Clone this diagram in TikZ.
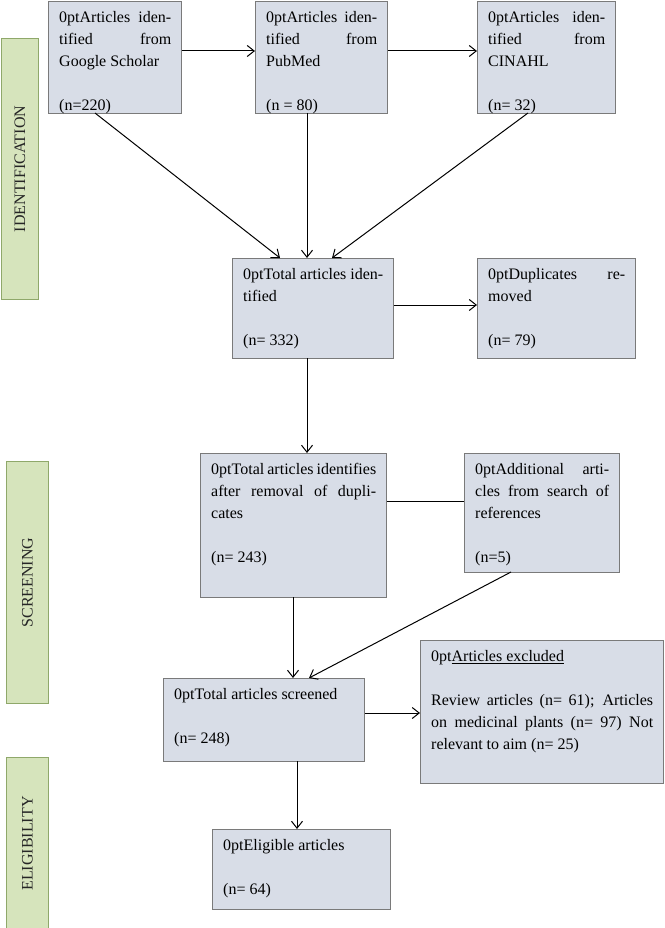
\documentclass[tikz,border=0pt]{standalone}
\usepackage{fontspec}
\setmainfont{Liberation Serif}
\usetikzlibrary{arrows.meta}
\definecolor{boxfill}{HTML}{D8DDE7}
\definecolor{boxdraw}{HTML}{7A7A7A}
\definecolor{barfill}{HTML}{D6E4BC}
\definecolor{bardraw}{HTML}{8FA86A}
\newcommand{\fbx}[6]{%
  \node[box, minimum width=#4-#2, minimum height=#5-#3, anchor=north west] (#1) at (#2,#3) {};
  \node[boxtext, text width=#4-#2-21pt, anchor=north west] (#1t) at (#2+1,#3+4) {#6};
}
\newcommand{\sbar}[6]{%
  \node[bar, minimum width=#4-#2, minimum height=#5-#3, anchor=north west] (#1) at (#2,#3) {};
  \node[rotate=90, font=\fontsize{16}{19}\selectfont, text=black!85] (#1t) at ($(#1.center)$) {#6};
}
\usetikzlibrary{calc}
\tikzset{
  box/.style={draw=boxdraw, fill=boxfill, line width=0.9pt, inner sep=0pt},
  boxtext/.style={inner xsep=10pt, inner ysep=6pt, align=justify,
    font=\fontsize{16}{22}\selectfont\hyphenpenalty=10000\exhyphenpenalty=10000\tolerance=9999},
  bar/.style={draw=bardraw, fill=barfill, line width=1pt, inner sep=0pt},
  arr/.style={-{Straight Barb[length=7pt,width=11pt]}, line width=1pt},
  ln/.style={line width=1pt}
}
\begin{document}
\begin{tikzpicture}[x=1pt,y=-1pt]
\useasboundingbox (0,0) rectangle (664,928);
\sbar{idb}{1}{38}{38}{299}{IDENTIFICATION}
\sbar{scb}{6}{461}{48}{703}{SCREENING}
\sbar{elb}{6}{757}{48}{929}{ELIGIBILITY}
\fbx{gs}{48}{1}{181}{113}{Articles identified from Google Scholar\\[22pt](n=220)}
\fbx{pm}{255}{1}{387}{113}{Articles identified from PubMed\\[22pt](n = 80)}
\fbx{ci}{477}{1}{615}{113}{Articles identified from CINAHL\\[22pt](n= 32)}
\fbx{ti}{232}{258}{393}{358}{Total articles identified\\[22pt](n= 332)}
\fbx{du}{477}{258}{635}{358}{Duplicates removed\\[22pt](n= 79)}
\fbx{ar}{200}{453}{386}{597}{Total articles identifies after removal of duplicates\\[22pt](n= 243)}
\fbx{ad}{464}{453}{619}{572}{Additional articles from search of references\\[22pt](n=5)}
\fbx{sc}{163}{678}{364}{761}{Total articles screened\\[22pt](n= 248)}
\fbx{ex}{420}{640}{663}{783}{\underline{Articles excluded}\\[22pt]Review articles (n=~61); Articles on medicinal plants (n=~97) Not relevant to aim (n=~25)}
\fbx{el}{212}{829}{390}{909}{Eligible articles\\[22pt](n= 64)}
\coordinate (gsb) at (95,113);
\coordinate (cib) at (528,113);
\draw[arr] (gs.east |- 0,51) -- (pm.west |- 0,51);
\draw[arr] (pm.east |- 0,51) -- (ci.west |- 0,51);
\draw[arr] (gsb) -- (280,258);
\draw[arr] (307,113) -- (307,258);
\draw[arr] (cib) -- (332,258);
\draw[arr] (ti.east |- 0,305) -- (du.west |- 0,305);
\draw[arr] (307,358) -- (307,453);
\draw[ln] (ar.east |- 0,501) -- (ad.west |- 0,501);
\draw[arr] (293,597) -- (293,678);
\draw[arr] (511,572) -- (309,678);
\draw[arr] (sc.east |- 0,713) -- (ex.west |- 0,713);
\draw[arr] (297,761) -- (297,829);
\end{tikzpicture}
\end{document}
